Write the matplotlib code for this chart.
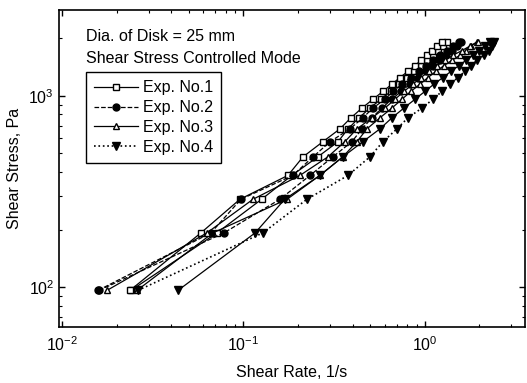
import matplotlib
matplotlib.use("Agg")
import matplotlib.pyplot as plt
from matplotlib.ticker import LogLocator, NullFormatter

plt.rcParams['font.family'] = ['Liberation Sans', 'DejaVu Sans']

# Shear stress levels (Pa), same for every run
stress = [96, 192, 288, 384, 480, 576, 672, 768, 864, 960,
          1056, 1152, 1248, 1344, 1440, 1536, 1632, 1728, 1824, 1920]

# Shear rates (1/s)
exp1_a = [0.0237, 0.0583, 0.0957, 0.176, 0.213, 0.274, 0.340, 0.391, 0.450, 0.517,
          0.587, 0.658, 0.728, 0.806, 0.881, 0.951, 1.026, 1.093, 1.165, 1.241]
exp1_b = [0.0240, 0.0715, 0.126, 0.185, 0.257, 0.332, 0.377, 0.433, 0.498, 0.572,
          0.650, 0.719, 0.796, 0.870, 0.951, 1.026, 1.107, 1.179, 1.257, 1.322]
exp2_a = [0.0158, 0.0662, 0.0969, 0.187, 0.242, 0.300, 0.386, 0.455, 0.517, 0.602,
          0.666, 0.747, 0.837, 0.927, 1.013, 1.107, 1.210, 1.322, 1.426, 1.539]
exp2_b = [0.0160, 0.0781, 0.159, 0.233, 0.311, 0.396, 0.450, 0.511, 0.579, 0.658,
          0.738, 0.827, 0.915, 1.013, 1.107, 1.210, 1.305, 1.409, 1.501, 1.579]
exp3_a = [0.0177, 0.0629, 0.113, 0.205, 0.292, 0.362, 0.422, 0.511, 0.602, 0.684,
          0.766, 0.859, 0.951, 1.052, 1.165, 1.289, 1.426, 1.599, 1.770, 1.959]
exp3_b = [0.0259, 0.0679, 0.174, 0.264, 0.353, 0.422, 0.479, 0.565, 0.658, 0.747,
          0.837, 0.939, 1.039, 1.150, 1.273, 1.409, 1.559, 1.683, 1.793, 1.934]
exp4_a = [0.0262, 0.128, 0.224, 0.377, 0.498, 0.587, 0.701, 0.806, 0.963, 1.107,
          1.241, 1.373, 1.520, 1.661, 1.793, 1.934, 2.114, 2.252, 2.339, 2.400]
exp4_b = [0.0436, 0.116, 0.169, 0.264, 0.353, 0.455, 0.565, 0.658, 0.766, 0.881,
          1.000, 1.121, 1.257, 1.391, 1.539, 1.683, 1.839, 1.984, 2.141, 2.281]

fig = plt.figure(figsize=(5.27, 3.83), dpi=100)
ax = fig.add_axes([0.112, 0.146, 0.884, 0.828])

ms = 5
lw = 0.9
# second runs first (no legend)
ax.plot(exp1_b, stress, '-', color='k', lw=lw, marker='s', ms=ms, mfc='white', mec='k')
ax.plot(exp2_b, stress, '--', color='k', lw=lw, marker='o', ms=ms, mfc='k', mec='k')
ax.plot(exp3_b, stress, '-', color='k', lw=lw, marker='^', ms=ms, mfc='white', mec='k')
ax.plot(exp4_b, stress, '-', color='k', lw=lw, marker='v', ms=ms + 1, mfc='k', mec='k')

ax.plot(exp1_a, stress, '-', color='k', lw=lw, marker='s', ms=ms, mfc='white', mec='k', label='Exp. No.1')
ax.plot(exp2_a, stress, '--', color='k', lw=lw, marker='o', ms=ms, mfc='k', mec='k', label='Exp. No.2')
ax.plot(exp3_a, stress, '-', color='k', lw=lw, marker='^', ms=ms, mfc='white', mec='k', label='Exp. No.3')
ax.plot(exp4_a, stress, ':', color='k', lw=lw + 0.3, marker='v', ms=ms + 1, mfc='k', mec='k', label='Exp. No.4')

ax.set_xscale('log')
ax.set_yscale('log')
ax.set_xlim(0.00963, 3.56)
ax.set_ylim(61.7, 2820)

ax.xaxis.set_major_locator(LogLocator(base=10, numticks=10))
ax.yaxis.set_major_locator(LogLocator(base=10, numticks=10))
ax.xaxis.set_minor_locator(LogLocator(base=10, subs=range(2, 10), numticks=10))
ax.yaxis.set_minor_locator(LogLocator(base=10, subs=range(2, 10), numticks=10))
ax.xaxis.set_minor_formatter(NullFormatter())
ax.yaxis.set_minor_formatter(NullFormatter())
ax.tick_params(which='both', direction='in', top=True, right=True, labelsize=11.5, color='k')
ax.tick_params(which='major', length=4, width=1)
ax.tick_params(which='minor', length=2.5, width=0.8)
ax.tick_params(axis='x', pad=6)
for s in ax.spines.values():
    s.set_linewidth(1.2)

ax.set_xlabel('Shear Rate, 1/s', fontsize=11.5, labelpad=8)
ax.set_ylabel('Shear Stress, Pa', fontsize=11.5, labelpad=5)

ax.text(0.057, 0.915, 'Dia. of Disk = 25 mm', transform=ax.transAxes, fontsize=11.5, va='center')
ax.text(0.057, 0.848, 'Shear Stress Controlled Mode', transform=ax.transAxes, fontsize=11.5, va='center')

leg = ax.legend(loc='upper left', bbox_to_anchor=(0.057, 0.803), fontsize=11.5,
                handlelength=2.8, handletextpad=0.3, borderpad=0.5, labelspacing=0.3,
                fancybox=False, framealpha=1, edgecolor='k', borderaxespad=0)
leg.get_frame().set_linewidth(1.0)

fig.savefig('out.png', dpi=100)
